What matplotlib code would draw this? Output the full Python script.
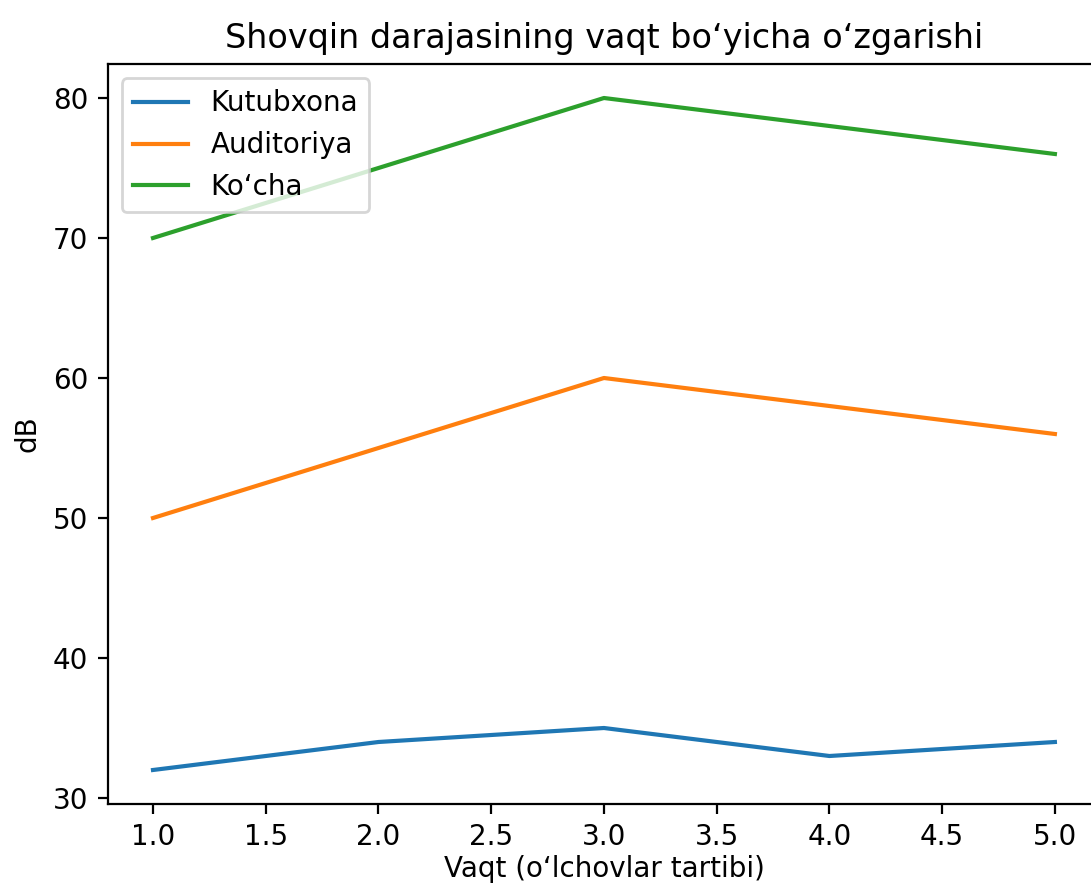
import matplotlib
matplotlib.use("Agg")
import matplotlib.pyplot as plt

vaqt = [1, 2, 3, 4, 5]
kutubxona = [32, 34, 35, 33, 34]
auditoriya = [50, 55, 60, 58, 56]
kocha = [70, 75, 80, 78, 76]

W, H, DPI = 1091, 888, 200
fig = plt.figure(figsize=(W / DPI, H / DPI), dpi=DPI)
# axes placed as in the original (which runs past the right edge)
left, right, top, bottom = 107.9, 1100.0, 64.4, 803.6
ax = fig.add_axes([left / W, 1 - bottom / H, (right - left) / W, (bottom - top) / H])

ax.plot(vaqt, kutubxona, label="Kutubxona")
ax.plot(vaqt, auditoriya, label="Auditoriya")
ax.plot(vaqt, kocha, label="Ko\u02bbcha")

ax.set_title("Shovqin darajasining vaqt bo\u02bbyicha o\u02bbzgarishi")
ax.set_xlabel("Vaqt (o\u02bblchovlar tartibi)", labelpad=1.5)
ax.set_ylabel("dB")
ax.legend(loc="upper left")

fig.savefig("out.png", dpi=DPI)
